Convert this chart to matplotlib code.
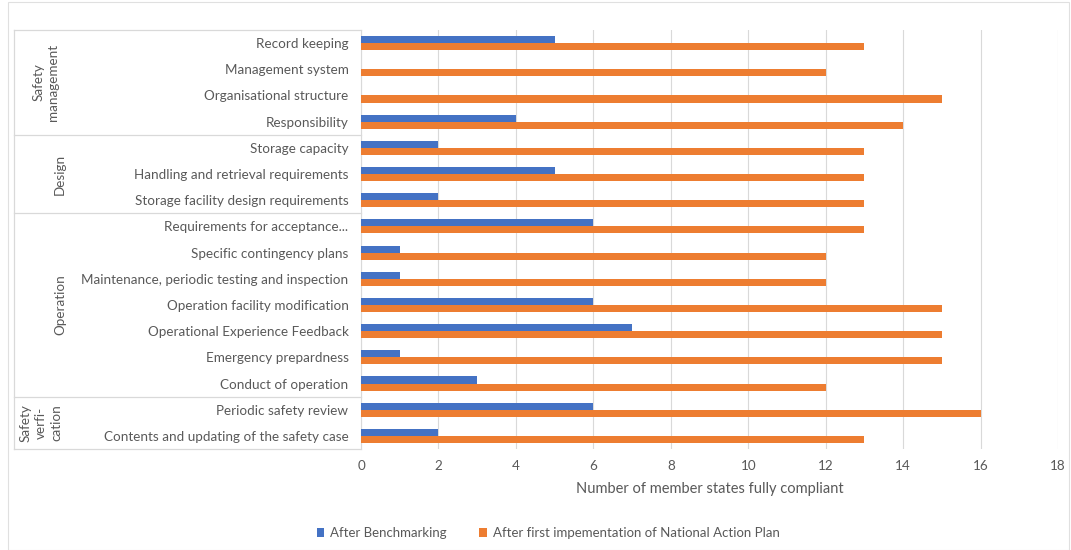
import matplotlib.pyplot as plt
import matplotlib.transforms as mtransforms
import matplotlib.patches as mpatches

plt.rcParams["font.family"] = ["Lato", "DejaVu Sans"]

CATEGORIES = [
    "Record keeping", "Management system", "Organisational structure", "Responsibility",
    "Storage capacity", "Handling and retrieval requirements", "Storage facility design requirements",
    "Requirements for acceptance...", "Specific contingency plans",
    "Maintenance, periodic testing and inspection", "Operation facility modification",
    "Operational Experience Feedback", "Emergency prepardness", "Conduct of operation",
    "Periodic safety review", "Contents and updating of the safety case",
]
BENCHMARK = [5, 0, 0, 4, 2, 5, 2, 6, 1, 1, 6, 7, 1, 3, 6, 2]
NAP = [13, 12, 15, 14, 13, 13, 13, 13, 12, 12, 15, 15, 15, 12, 16, 13]
GROUPS = ["Safety\nmanagement", "Design", "Operation", "Safety\nverfi-\ncation"]
GROUP_SIZES = [4, 3, 7, 2]

BLUE = "#4472C4"
ORANGE = "#ED7D31"
TXT = "#595959"
GRID = "#D9D9D9"

W, H = 1071, 550
fig = plt.figure(figsize=(W / 100, H / 100), dpi=100)
x0, x1, ytop, ybot = 361, 1058, 30, 449
ax = fig.add_axes([x0 / W, 1 - ybot / H, (x1 - x0) / W, (ybot - ytop) / H])

n = len(CATEGORIES)
ys = list(range(n))
h = 0.27
ax.barh([y - h / 2 for y in ys], BENCHMARK, height=h, color=BLUE, label="After Benchmarking", zorder=3)
ax.barh([y + h / 2 for y in ys], NAP, height=h, color=ORANGE,
        label="After first impementation of National Action Plan", zorder=3)

ax.set_ylim(n - 0.5, -0.5)
ax.set_xlim(0, 18)
ax.set_xticks(range(0, 19, 2))
ax.set_yticks(ys)
ax.set_yticklabels(CATEGORIES)
ax.tick_params(axis="y", length=0, pad=9, labelsize=9.7, labelcolor=TXT)
ax.tick_params(axis="x", length=0, pad=8, labelsize=9.7, labelcolor=TXT)
ax.grid(axis="x", color=GRID, linewidth=0.8, zorder=0)
for s in ["top", "right", "bottom"]:
    ax.spines[s].set_visible(False)
ax.spines["left"].set_color(GRID)
ax.set_xlabel("Number of member states fully compliant", fontsize=10.5, color=TXT, labelpad=7)

# group label table on the left
trans = mtransforms.blended_transform_factory(ax.transAxes, ax.transData)
left = (14 - x0) / (x1 - x0)
bounds = [-0.5]
for g in GROUP_SIZES:
    bounds.append(bounds[-1] + g)
for b in bounds:
    ax.plot([left, 0], [b, b], transform=trans, color=GRID, lw=0.9, clip_on=False)
ax.plot([left, left], [bounds[0], bounds[-1]], transform=trans, color=GRID, lw=0.9, clip_on=False)
group_x = [46, 60, 60, 41]
for name, b0, b1, gx in zip(GROUPS, bounds[:-1], bounds[1:], group_x):
    ax.text((gx - x0) / (x1 - x0), (b0 + b1) / 2, name, transform=trans, rotation=90,
            ha="center", va="center", multialignment="center", fontsize=9.7, color=TXT,
            linespacing=1.3)

handles, labels = ax.get_legend_handles_labels()
fig.legend(handles, labels, loc="center", bbox_to_anchor=(548 / W, 1 - 533 / H), ncol=2,
           frameon=False, fontsize=9.5, labelcolor=TXT, handlelength=0.6, handleheight=0.6,
           handletextpad=0.4, columnspacing=2.5)

fig.patches.append(mpatches.Rectangle((8 / W, 0), 1 - 10 / W, 1 - 2 / H, transform=fig.transFigure,
                                      fill=False, edgecolor="#E0E0E0", lw=0.8))

fig.savefig("out.png", dpi=100)
